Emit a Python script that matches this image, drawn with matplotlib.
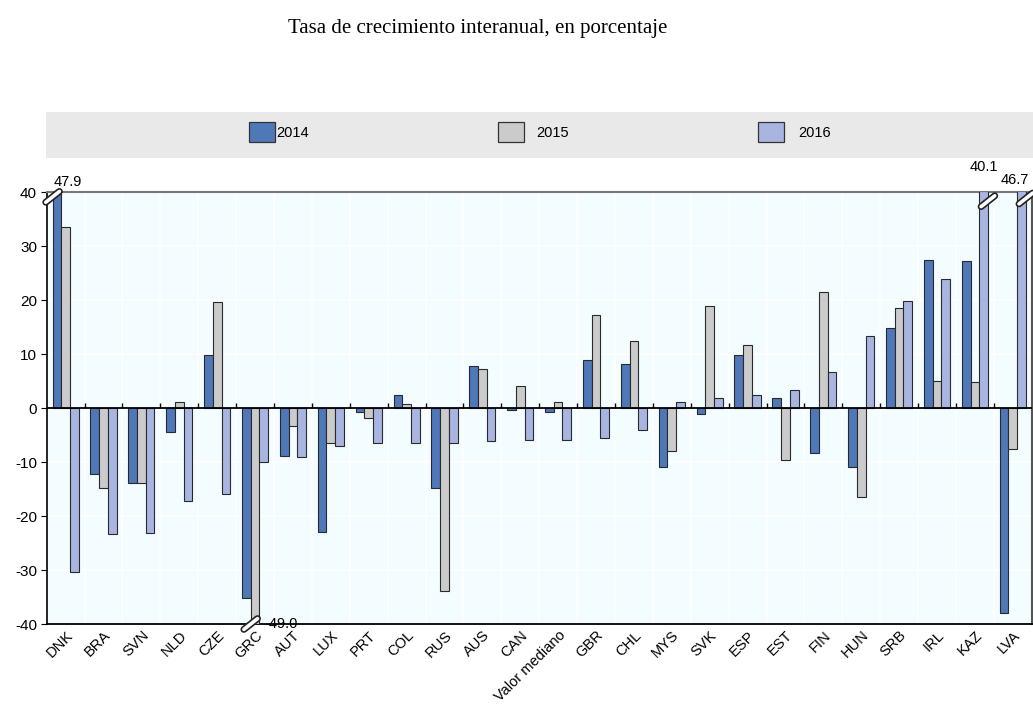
import numpy as np
import matplotlib.pyplot as plt
from matplotlib.patches import Rectangle

plt.rcParams['axes.unicode_minus'] = False

categories = ['DNK', 'BRA', 'SVN', 'NLD', 'CZE', 'GRC', 'AUT', 'LUX', 'PRT', 'COL',
              'RUS', 'AUS', 'CAN', 'Valor mediano', 'GBR', 'CHL', 'MYS', 'SVK', 'ESP',
              'EST', 'FIN', 'HUN', 'SRB', 'IRL', 'KAZ', 'LVA']
y2014 = [47.9, -12.3, -13.8, -4.4, 9.9, -35.1, -8.9, -22.9, -0.8, 2.5,
         -14.8, 7.7, -0.4, -0.8, 8.9, 8.1, -10.9, -1.1, 9.9,
         1.9, -8.4, -10.9, 14.9, 27.5, 27.3, -37.9]
y2015 = [33.6, -14.8, -13.8, 1.1, 19.7, -49.0, -3.4, -6.5, -1.9, 0.8,
         -33.9, 7.3, 4.1, 1.1, 17.2, 12.5, -7.9, 18.9, 11.7,
         -9.6, 21.5, -16.4, 18.6, 5.0, 4.8, -7.6]
y2016 = [-30.3, -23.3, -23.1, -17.3, -16.0, -10.0, -9.0, -7.0, -6.5, -6.5,
         -6.4, -6.1, -5.9, -5.9, -5.6, -4.1, 1.1, 1.8, 2.5,
         3.3, 6.7, 13.3, 19.9, 23.8, 40.1, 46.7]
series = ['2014', '2015', '2016']
colors = ['#4f78b8', '#cbcbcb', '#a9b5e1']
ymin, ymax = -40, 40

fig = plt.figure(figsize=(10.33, 7.04), dpi=100)
ax = fig.add_axes([46.7 / 1033, 1 - 624 / 704, (1031.7 - 46.7) / 1033, 432 / 704])
ax.set_facecolor('#f3fcfe')

x = np.arange(len(categories))
w = 0.23
for i, (vals, c) in enumerate(zip([y2014, y2015, y2016], colors)):
    ax.bar(x + (i - 1) * w, vals, w, color=c, edgecolor='#2a2a2a', linewidth=0.8, zorder=3)

ax.set_xlim(-0.5, len(categories) - 0.5)
ax.set_ylim(ymin, ymax)
ax.set_yticks(range(-40, 41, 10))
ax.set_xticks(x)
ax.set_xticklabels(categories, rotation=45, ha='right', rotation_mode='anchor',
                   fontsize=10.5, family='Liberation Sans')
ax.tick_params(axis='x', length=0, pad=3)
ax.tick_params(axis='y', length=4, width=0.8, labelsize=11, pad=3)
for lab in ax.get_yticklabels():
    lab.set_family('Liberation Sans')

ax.set_xticks(x[:-1] + 0.5, minor=True)
ax.tick_params(axis='x', which='minor', length=0)
ax.grid(True, which='minor', axis='x', color='white', linewidth=1.2, zorder=0)
ax.grid(True, which='major', axis='y', color='white', linewidth=1.2, zorder=0)
ax.set_axisbelow(True)

ax.axhline(0, color='black', linewidth=1.3, zorder=4)
ax.vlines(x[:-1] + 0.5, 0, 0.9, color='black', linewidth=1.0, zorder=4)

ax.spines['left'].set_color('black')
ax.spines['bottom'].set_color('black')
ax.spines['left'].set_linewidth(1.2)
ax.spines['bottom'].set_linewidth(1.3)
ax.spines['top'].set_color('#777777')
ax.spines['top'].set_linewidth(1.5)
ax.spines['right'].set_color('#555555')
ax.spines['right'].set_linewidth(1.5)


def brk(xc, yc):
    dx, dy = 0.18, 1.0
    for lw, col in [(5, '#222222'), (2.6, 'white')]:
        ax.plot([xc - dx, xc + dx], [yc - dy, yc + dy], color=col, linewidth=lw,
                solid_capstyle='round', clip_on=False, zorder=6)


# out-of-range values
i_dnk = categories.index('DNK')
i_grc = categories.index('GRC')
i_kaz = categories.index('KAZ')
i_lva = categories.index('LVA')
brk(x[i_dnk] - 1.5 * w, ymax - 0.9)
ax.text(x[i_dnk] - 1.5 * w + 0.02, ymax + 0.6, f'{y2014[i_dnk]:.1f}', ha='left', va='bottom',
        fontsize=10.5, family='Liberation Sans')
brk(x[i_grc] - 0.5 * w, ymin)
ax.text(x[i_grc] + 0.5 * w + 0.12, ymin, f'{y2015[i_grc]:.1f}', ha='left', va='center',
        fontsize=10.5, family='Liberation Sans', zorder=7)
brk(x[i_kaz] + 1.5 * w, ymax - 1.7)
ax.text(x[i_kaz] + w, ymax + 3.3, f'{y2016[i_kaz]:.1f}', ha='center', va='bottom',
        fontsize=10.5, family='Liberation Sans')
brk(x[i_lva] + 1.5 * w, ymax - 1.2)
ax.text(x[i_lva] + 1.5 * w + 0.08, ymax + 1.0, f'{y2016[i_lva]:.1f}', ha='right', va='bottom',
        fontsize=10.5, family='Liberation Sans')

# legend band
fig.patches.append(Rectangle((46 / 1033, 1 - 158 / 704), 1 - 46 / 1033, 46 / 704,
                             transform=fig.transFigure, facecolor='#e9e9e9',
                             edgecolor='none', zorder=0))
leg_x = [249, 498, 758]
txt_gap = [1, 12, 14]
for name, c, lx, g in zip(series, colors, leg_x, txt_gap):
    fig.patches.append(Rectangle((lx / 1033, 1 - 142 / 704), 26 / 1033, 20 / 704,
                                 transform=fig.transFigure, facecolor=c,
                                 edgecolor='#333333', linewidth=0.9, zorder=2))
    fig.text((lx + 26 + g) / 1033, 1 - 133 / 704, name, ha='left', va='center',
             fontsize=10.5, family='Liberation Sans')

fig.text(478 / 1033, 1 - 28 / 704, 'Tasa de crecimiento interanual, en porcentaje',
         ha='center', va='center', fontsize=15, family='Liberation Serif')

fig.savefig('out.png', dpi=100)
